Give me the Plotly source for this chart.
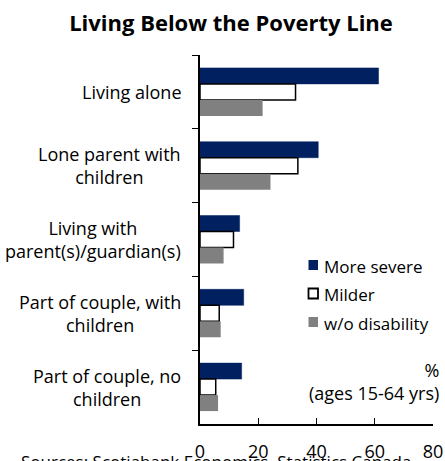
import plotly.graph_objects as go

categories = [
    "Living alone",
    "Lone parent with<br>children",
    "Living with<br>parent(s)/guardian(s)",
    "Part of couple, with<br>children",
    "Part of couple, no<br>children",
]
more_severe = [61.3, 40.6, 13.6, 15.0, 14.3]
milder = [32.8, 33.6, 11.5, 6.6, 5.4]
no_disability = [21.5, 24.2, 8.1, 7.1, 6.2]
x_ticks = [0, 20, 40, 60, 80]
series_names = ["More severe", "Milder", "w/o disability"]

FONT = "Open Sans"
NAVY = "#002060"
GREY = "#808080"
W, H = 445, 461
ML, MR, MT, MB = 200, 12, 55, 37
PW, PH = W - ML - MR, H - MT - MB


def px_x(p):
    return (p - ML) / PW


def px_y(p):
    return (H - MB - p) / PH


fig = go.Figure()
fig.add_bar(y=categories, x=more_severe, orientation="h", name=series_names[0],
            marker=dict(color=NAVY, line=dict(color=NAVY, width=0.5)))
fig.add_bar(y=categories, x=milder, orientation="h", name=series_names[1],
            marker=dict(color="white", line=dict(color="black", width=1.5)))
fig.add_bar(y=categories, x=no_disability, orientation="h", name=series_names[2],
            marker=dict(color=GREY, line=dict(width=0)))

# category labels: centred multi-line text to the left of the axis
for c in categories:
    fig.add_annotation(x=0, xref="paper", y=c, yref="y", text=c, showarrow=False,
                       xanchor="right", align="center", xshift=-17,
                       font=dict(family=FONT, size=18, color="black"))

# compact legend: small squares with text close beside them
legend_fill = [NAVY, "white", GREY]
legend_edge = [NAVY, "black", GREY]
legend_rows = [265, 293.5, 322]
for name, fill, edge, row in zip(series_names, legend_fill, legend_edge, legend_rows):
    fig.add_shape(type="rect", xref="paper", yref="paper",
                  x0=px_x(308.5), x1=px_x(318), y0=px_y(row + 5), y1=px_y(row - 5),
                  fillcolor=fill, line=dict(color=edge, width=1.8 if fill == "white" else 0))
    fig.add_annotation(x=px_x(322), xref="paper", y=px_y(row + 1), yref="paper",
                       xanchor="left", yanchor="middle", showarrow=False, text=name,
                       font=dict(family=FONT, size=17, color="black"))

fig.add_annotation(x=px_x(441), xref="paper", y=px_y(407), yref="paper",
                   xanchor="right", yanchor="bottom", align="right", showarrow=False,
                   text="%<br>(ages 15-64 yrs)",
                   font=dict(family=FONT, size=18, color="black"))

fig.add_annotation(x=px_x(19), xref="paper", y=px_y(462), yref="paper",
                   yanchor="middle", xanchor="left", showarrow=False,
                   text="Sources: Scotiabank Economics, Statistics Canada.",
                   font=dict(family=FONT, size=17, color="black"))

fig.update_layout(
    width=W, height=H,
    margin=dict(l=ML, r=MR, t=MT, b=MB, autoexpand=False),
    paper_bgcolor="white", plot_bgcolor="white",
    barmode="group", bargap=0.35, bargroupgap=0,
    title=dict(text="<b>Living Below the Poverty Line</b>", x=231 / W, xanchor="center",
               y=1 - 23 / H, yanchor="middle",
               font=dict(family=FONT, size=22, color="black")),
    showlegend=False,
    font=dict(family=FONT, size=17, color="black"),
)
fig.update_xaxes(range=[0, 80], tickvals=x_ticks, ticks="inside", ticklen=6,
                 tickcolor="black", showline=True, linecolor="black", linewidth=1.5,
                 showgrid=False, zeroline=False, ticklabelstandoff=11,
                 tickfont=dict(family=FONT, size=18, color="black"))
fig.update_yaxes(autorange="reversed", showticklabels=False, ticks="outside",
                 ticklen=6, tickson="boundaries", tickcolor="black",
                 showline=True, linecolor="black", linewidth=1.5, showgrid=False)

fig.write_html("out.html")
